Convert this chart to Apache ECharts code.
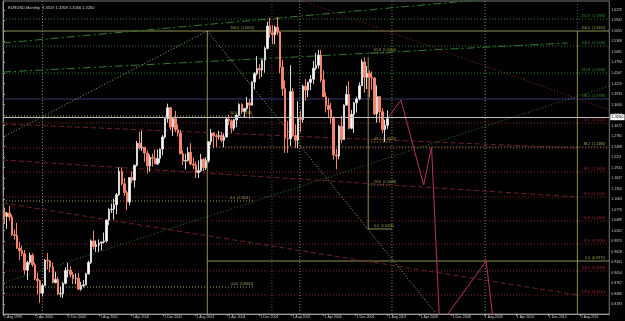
<!DOCTYPE html>
<html lang="en">
<head>
<meta charset="UTF-8">
<title>EURUSD,Monthly</title>
<script src="https://cdn.jsdelivr.net/npm/echarts@6/dist/echarts.min.js"></script>
<style>
    html, body { margin: 0; padding: 0; background: #000; }
    #chart { width: 625px; height: 321px; }
</style>
</head>
<body>
<div id="chart"></div>
<script>
// monthly bars from Aug 1999 to Feb 2012, [open, high, low, close]
var candles = [
    [1.0700,1.0830,1.0380,1.0590],[1.0590,1.0710,1.0250,1.0680],[1.0680,1.0880,1.0470,1.0570],[1.0570,1.0640,1.0050,1.0090],[1.0090,1.0230,0.9960,1.0070],
    [1.0070,1.0410,0.9700,0.9720],[0.9720,0.9900,0.9390,0.9650],[0.9650,0.9790,0.9500,0.9570],[0.9570,0.9670,0.9000,0.9120],[0.9120,0.9380,0.8850,0.9330],[0.9330,0.9600,0.9270,0.9530],
    [0.9530,0.9580,0.9210,0.9270],[0.9270,0.9330,0.8850,0.8880],[0.8880,0.9050,0.8450,0.8830],[0.8830,0.8860,0.8230,0.8490],[0.8490,0.8750,0.8400,0.8700],[0.8700,0.9420,0.8690,0.9390],
    [0.9390,0.9590,0.9140,0.9370],[0.9370,0.9390,0.9060,0.9210],[0.9210,0.9330,0.8760,0.8780],[0.8780,0.9080,0.8760,0.8870],[0.8870,0.8940,0.8440,0.8470],[0.8470,0.8670,0.8380,0.8480],
    [0.8480,0.8800,0.8360,0.8760],[0.8760,0.9200,0.8730,0.9110],[0.9110,0.9320,0.8920,0.9120],[0.9120,0.9230,0.8930,0.9000],[0.9000,0.9070,0.8740,0.8890],[0.8890,0.9030,0.8740,0.8900],
    [0.8900,0.9050,0.8590,0.8600],[0.8600,0.8800,0.8560,0.8700],[0.8700,0.8850,0.8650,0.8720],[0.8720,0.9050,0.8700,0.9020],[0.9020,0.9380,0.9000,0.9330],[0.9330,0.9960,0.9290,0.9920],
    [0.9920,1.0200,0.9690,0.9770],[0.9770,0.9930,0.9620,0.9810],[0.9810,0.9960,0.9620,0.9860],[0.9860,0.9900,0.9660,0.9890],[0.9890,1.0150,0.9850,0.9920],[0.9920,1.0500,0.9870,1.0490],
    [1.0490,1.0820,1.0350,1.0770],[1.0770,1.0940,1.0680,1.0790],[1.0790,1.1080,1.0500,1.0910],[1.0910,1.1230,1.0650,1.1180],[1.1180,1.1930,1.1150,1.1820],[1.1820,1.1930,1.1430,1.1480],
    [1.1480,1.1640,1.1150,1.1240],[1.1240,1.1290,1.0760,1.0980],[1.0980,1.1650,1.0890,1.1650],[1.1650,1.1820,1.1500,1.1580],[1.1580,1.2000,1.1380,1.1990],[1.1990,1.2650,1.1950,1.2590],
    [1.2590,1.2900,1.2410,1.2460],[1.2460,1.2930,1.2380,1.2480],[1.2480,1.2480,1.2080,1.2320],[1.2320,1.2390,1.1760,1.1970],[1.1970,1.2280,1.1810,1.2200],[1.2200,1.2300,1.1950,1.2180],
    [1.2180,1.2420,1.2020,1.2020],[1.2020,1.2420,1.2000,1.2170],[1.2170,1.2440,1.2050,1.2430],[1.2430,1.2810,1.2260,1.2760],[1.2760,1.3300,1.2720,1.3260],[1.3260,1.3670,1.3150,1.3560],
    [1.3560,1.3580,1.2950,1.3030],[1.3030,1.3280,1.2790,1.3260],[1.3260,1.3470,1.2890,1.2960],[1.2960,1.3100,1.2770,1.2870],[1.2870,1.2960,1.2300,1.2300],[1.2300,1.2390,1.1990,1.2100],
    [1.2100,1.2300,1.1870,1.2120],[1.2120,1.2480,1.2090,1.2340],[1.2340,1.2590,1.1990,1.2020],[1.2020,1.2200,1.1880,1.1990],[1.1990,1.2090,1.1640,1.1790],[1.1790,1.2120,1.1640,1.1840],
    [1.1840,1.2300,1.1800,1.2150],[1.2150,1.2180,1.1830,1.1920],[1.1920,1.2200,1.1860,1.2110],[1.2110,1.2630,1.2060,1.2630],[1.2630,1.2980,1.2540,1.2860],[1.2860,1.2890,1.2460,1.2790],
    [1.2790,1.2850,1.2490,1.2770],[1.2770,1.2930,1.2690,1.2800],[1.2800,1.2900,1.2620,1.2670],[1.2670,1.2850,1.2480,1.2760],[1.2760,1.3290,1.2750,1.3250],[1.3250,1.3370,1.3080,1.3200],
    [1.3200,1.3240,1.2870,1.3000],[1.3000,1.3250,1.2930,1.3230],[1.3230,1.3390,1.3030,1.3350],[1.3350,1.3680,1.3320,1.3650],[1.3650,1.3680,1.3400,1.3450],[1.3450,1.3540,1.3290,1.3540],
    [1.3540,1.3850,1.3480,1.3690],[1.3690,1.3790,1.3260,1.3630],[1.3630,1.4280,1.3620,1.4260],[1.4260,1.4530,1.4070,1.4490],[1.4490,1.4970,1.4440,1.4630],[1.4630,1.4750,1.4340,1.4590],
    [1.4590,1.4880,1.4400,1.4860],[1.4860,1.5230,1.4520,1.5180],[1.5180,1.5910,1.5150,1.5790],[1.5790,1.6020,1.5470,1.5610],[1.5610,1.5820,1.5290,1.5550],[1.5550,1.5800,1.5290,1.5760],
    [1.5760,1.6040,1.5540,1.5620],[1.5620,1.5640,1.4500,1.4670],[1.4670,1.4870,1.3880,1.4080],[1.4080,1.4300,1.2330,1.2720],[1.2720,1.3190,1.2330,1.2710],[1.2710,1.4720,1.2510,1.4000],
    [1.4000,1.4100,1.2780,1.2800],[1.2800,1.3110,1.2460,1.2670],[1.2670,1.3740,1.2450,1.3260],[1.3260,1.3480,1.2890,1.3240],[1.3240,1.4190,1.3150,1.4150],[1.4150,1.4340,1.3750,1.4040],
    [1.4040,1.4270,1.3850,1.4250],[1.4250,1.4450,1.4040,1.4340],[1.4340,1.4840,1.4210,1.4640],[1.4640,1.5060,1.4580,1.4720],[1.4720,1.5140,1.4630,1.5000],[1.5000,1.5140,1.4250,1.4320],
    [1.4320,1.4580,1.3860,1.3860],[1.3860,1.3980,1.3430,1.3620],[1.3620,1.3820,1.3270,1.3510],[1.3510,1.3690,1.3110,1.3290],[1.3290,1.3320,1.2140,1.2270],[1.2270,1.2430,1.1880,1.2240],
    [1.2240,1.3090,1.2150,1.3050],[1.3050,1.3330,1.2590,1.2690],[1.2690,1.3650,1.2690,1.3630],[1.3630,1.4160,1.3610,1.3920],[1.3920,1.4280,1.2970,1.3000],[1.3000,1.3500,1.2970,1.3380],
    [1.3380,1.3720,1.2870,1.3690],[1.3690,1.3860,1.3430,1.3800],[1.3800,1.4250,1.3760,1.4160],[1.4160,1.4880,1.4150,1.4810],[1.4810,1.4940,1.3970,1.4390],[1.4390,1.4700,1.4070,1.4500],
    [1.4500,1.4580,1.3840,1.4390],[1.4390,1.4550,1.4050,1.4370],[1.4370,1.4390,1.3360,1.3390],[1.3390,1.4170,1.3150,1.3860],[1.3860,1.3880,1.3150,1.3450],[1.3450,1.3550,1.2860,1.2960],
    [1.2960,1.3230,1.2620,1.3080],[1.3080,1.3490,1.2980,1.3260]
];

var xLabels = ['1 Aug 1999','1 Apr 2000','1 Dec 2000','1 Aug 2001','1 Apr 2002','1 Dec 2002','1 Aug 2003',
    '1 Apr 2004','1 Dec 2004','1 Aug 2005','1 Apr 2006','1 Dec 2006','1 Aug 2007','1 Apr 2008',
    '1 Dec 2008','1 Aug 2009','1 Apr 2010','1 Dec 2010','1 Aug 2011'];

var priceTicks = [1.6229,1.5942,1.5655,1.5368,1.5081,1.4794,1.4507,1.4220,1.3933,1.3646,1.3359,1.3072,
    1.2785,1.2498,1.2211,1.1924,1.1637,1.1350,1.1063,1.0776,1.0489,1.0202,0.9915,0.9628,0.9341,
    0.9054,0.8767,0.8480,0.8193];

var quote = ['1.3319', '1.3358', '1.3266', '1.3260'];

// fibo levels, [price, level]
var greenLevels = [[1.5983,'261.8'],[1.5246,'200.0'],[1.4508,'161.8']];
var blueLevel = [[1.3798,'138.2']];
var redLevels = [[1.3142,'23.6'],[1.2459,''],[1.1803,'38.2'],[1.1120,'50.0'],[1.0464,'61.8'],
    [0.9836,'76.4'],[0.9098,'100.0'],[0.8442,'123.6']];
var yellowSolid = [[1.5655,'100.0']];
var yellowLow = [[0.9371,'0.0']];
var yellowMid = [[1.2486,'38.2']];
var leftFibo = [[1.5655,'100.0'],[1.3333,'50.0'],[1.1011,'0.0'],[0.8661,'-50.0']];
var rightFibo = [[1.5054,'61.8'],[1.2623,'38.2'],[1.1448,'23.6'],[1.0246,'0.0']];

// drawn objects, [bar, price]
var greenUpper = [[0, 1.5328], [186.1, 1.6503]];
var greenMiddle = [[0, 1.4535], [221.1, 1.5328]];
var greenLower = [[0, 0.8770], [237.4, 1.4153]];
var redTop = [[116.2, 1.6503], [237.4, 1.3497]];
var redA = [[0, 1.3114], [224.9, 1.2459]];
var redB = [[0, 1.2131], [224.9, 1.1120]];
var redC = [[0, 1.0956], [224.9, 0.8442]];
var fanUp = [[0, 1.2759], [80, 1.5655]];
var fanDown = [[80, 1.5655], [169.4, 0.7951]];
var projection = [[150.5, 1.3260], [155.8, 1.3770], [164.7, 1.1448], [167.8, 1.2486], [170.9, 0.7759],
    [172.5, 0.7759], [189.2, 0.9371], [191.9, 0.7759]];
var vSolid = [[80, 1.5655, 0.7923], [143, 1.4945, 1.0246], [224.9, 1.5655, 0.7923]];
var vDotted = [15.5, 116.2, 152.3, 188.8];
var vBlue = [[105.3, 1.6475, 0.7923], [224.9, 1.6475, 1.5655]];

var X_MAX = 237.4, Y_MIN = 0.7923, Y_MAX = 1.6475, X_STEP = 12.55;
var FONT = 'Liberation Sans';

var chart = echarts.init(document.getElementById('chart'));

var candleData = candles.map(function (c, i) {
    return [i + 0.5, c[0], c[3], c[2], c[1]];
});

function seg(points, color, type, width) {
    return {
        type: 'line', data: points, symbol: 'none', silent: true, z: 1,
        lineStyle: {color: color, type: type, width: width || 1}
    };
}

function levels(items, from, to, color, type) {
    return items.map(function (it) {
        return seg([[from, it[0]], [to, it[0]]], color, type);
    });
}

function tags(items, at, color, side) {
    return {
        type: 'scatter', symbolSize: 0, silent: true, z: 6,
        data: items.filter(function (it) { return it[1] !== ''; }).map(function (it) {
            return [at, it[0], it[1] + '  (' + it[0].toFixed(4) + ')'];
        }),
        label: {
            show: true, position: side, distance: 0, offset: [0, -2.5],
            color: color, fontSize: 3.5, fontFamily: FONT,
            formatter: function (p) { return p.value[2]; }
        }
    };
}

var DOT = [1, 2], DASH = [5, 3], DASHDOT = [8, 3, 2, 3];
var series = [];

series = series.concat(levels(greenLevels, 0, X_MAX, '#2f7d2f', DOT));
series = series.concat(levels(blueLevel, 0, X_MAX, '#3a3a70', 'solid'));
series = series.concat(levels(redLevels, 0, X_MAX, '#7c2332', DOT));
series = series.concat(levels(yellowSolid, 0, X_MAX, '#8f8f55', 'solid'));
series = series.concat(levels(yellowLow, 80, X_MAX, '#8f8f55', 'solid'));
series = series.concat(levels(yellowMid, 80, X_MAX, '#a5a55a', DOT));
series = series.concat(levels(leftFibo.slice(1), 0, 98.7, '#a5a55a', DOT));
series = series.concat(levels(rightFibo.slice(0, 3), 143, 152.3, '#a5a55a', DOT));
series = series.concat(levels(rightFibo.slice(3), 143, 152.3, '#8f8f55', 'solid'));

vSolid.forEach(function (v) { series.push(seg([[v[0], v[1]], [v[0], v[2]]], '#8f8f55', 'solid')); });
vDotted.forEach(function (v) { series.push(seg([[v, Y_MAX], [v, Y_MIN]], '#8a8a4a', DOT)); });
vBlue.forEach(function (v) { series.push(seg([[v[0], v[1]], [v[0], v[2]]], '#4a4a78', DOT)); });

series.push(seg(greenUpper, '#2f7d2f', DASHDOT));
series.push(seg(greenMiddle, '#2f7d2f', DASHDOT));
series.push(seg(greenLower, '#2f7d2f', DOT));
series.push(seg(redTop, '#7c2332', DOT));
series.push(seg(redA, '#6e2030', DASH));
series.push(seg(redB, '#6e2030', DASH));
series.push(seg(redC, '#6e2030', DASH));
series.push(seg(fanUp, '#9a9a70', DOT));
series.push(seg(fanDown, '#b0b07a', DOT));
series.push(seg(projection, '#b3336a', 'solid'));

series.push(tags(greenLevels.concat(blueLevel), 235.8, '#3fae3f', 'left'));
series.push(tags(redLevels, 235.8, '#c0303e', 'left'));
series.push(tags(yellowSolid.concat(yellowLow, yellowMid), 235.8, '#c8c860', 'left'));
series.push(tags(leftFibo, 89, '#c8c860', 'right'));
series.push(tags(rightFibo, 145.3, '#c8c860', 'right'));

series.push({
    type: 'candlestick', data: candleData, z: 4,
    encode: {x: 0, y: [1, 2, 3, 4]},
    barWidth: 2,
    itemStyle: {color: '#ffffff', color0: '#f4846c', borderColor: '#d8d8d8', borderColor0: '#f4846c', borderWidth: 1},
    markLine: {
        symbol: 'none', silent: true,
        lineStyle: {color: '#c0c0c0', type: 'solid', width: 1},
        label: {
            position: 'end', distance: 1, color: '#000', backgroundColor: '#fff',
            fontSize: 4, fontFamily: FONT, padding: [1, 1],
            formatter: function () { return quote[3]; }
        },
        data: [{yAxis: candles[candles.length - 1][3]}]
    }
});

chart.setOption({
    backgroundColor: '#000',
    animation: false,
    title: {
        text: 'EURUSD,Monthly  ' + quote.join(' '),
        left: 3, top: 1,
        textStyle: {color: '#cfcfcf', fontSize: 4, fontWeight: 'normal', fontFamily: FONT}
    },
    grid: {left: 1, right: 13, top: 1, bottom: 7, show: true, borderColor: '#777', borderWidth: 1},
    xAxis: {
        type: 'value', min: 0, max: X_MAX, interval: X_STEP,
        splitLine: {show: false},
        axisLine: {lineStyle: {color: '#9a9a9a'}},
        axisTick: {show: true, length: 2, lineStyle: {color: '#9a9a9a'}},
        axisLabel: {
            color: '#c8c8c8', fontSize: 3.5, fontFamily: FONT, margin: 1, align: 'left',
            showMaxLabel: false,
            formatter: function (v) {
                var k = Math.round(v / X_STEP);
                return Math.abs(v - k * X_STEP) < 0.01 && xLabels[k] ? ' ' + xLabels[k] : '';
            }
        }
    },
    yAxis: {
        type: 'value', position: 'right', min: Y_MIN, max: Y_MAX,
        splitLine: {show: false},
        axisLine: {show: true, lineStyle: {color: '#9a9a9a'}},
        axisTick: {show: true, length: 2, customValues: priceTicks, lineStyle: {color: '#9a9a9a'}},
        axisLabel: {
            color: '#c8c8c8', fontSize: 3.5, fontFamily: FONT, margin: 2,
            customValues: priceTicks,
            formatter: function (v) { return v.toFixed(4); }
        }
    },
    series: series
});
</script>
</body>
</html>
